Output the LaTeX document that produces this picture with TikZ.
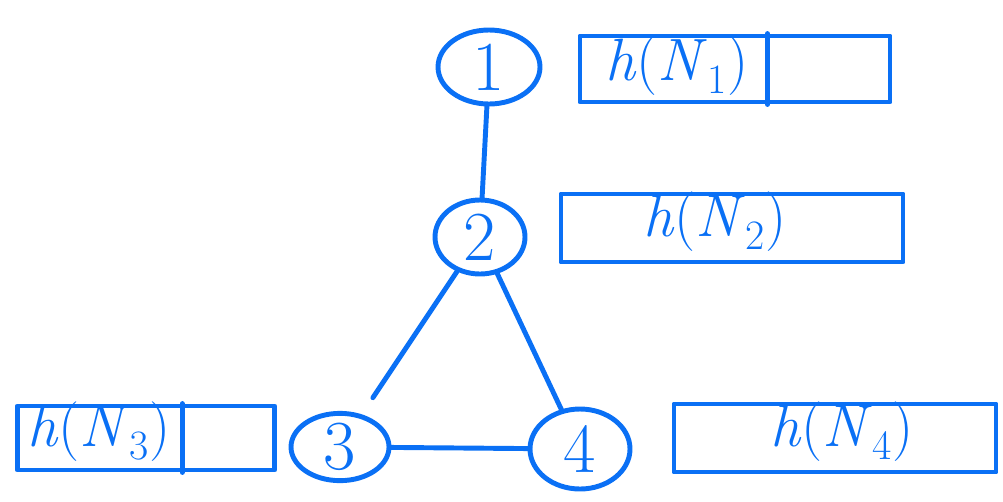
\documentclass[tikz,border=0pt]{standalone}
\usetikzlibrary{shapes.geometric,calc}
\definecolor{pen}{RGB}{10,112,245}
\newcommand{\hof}[1]{\textit{h}(\textit{N}\textsubscript{#1})}
\begin{document}
\begin{tikzpicture}[x=0.02cm,y=-0.02cm,
  ink/.style={draw=pen,line width=2.8pt,line cap=round,line join=round},
  vert/.style={ink,ellipse,inner sep=0pt,text=pen,font=\fontsize{40}{44}\selectfont},
  cell/.style={ink,rectangle,inner sep=0pt},
  lbl/.style={text=pen,inner sep=0pt,font=\fontsize{34}{40}\selectfont}]
\useasboundingbox (0,0) rectangle (1003,501);

% graph vertices
\node[vert,minimum width=102*0.02cm,minimum height=74*0.02cm] (n1) at (489,67) {1};
\node[vert,minimum width=90*0.02cm,minimum height=74*0.02cm] (n2) at (480,237) {2};
\node[vert,minimum width=98*0.02cm,minimum height=66*0.02cm] (n3) at (340,447) {3};
\node[vert,minimum width=100*0.02cm,minimum height=80*0.02cm] (n4) at (580,449) {4};

% edges
\draw[ink] (n1) -- (n2);
\draw[ink,shorten >=0.4cm] (n2) -- (n3);
\draw[ink] (n2) -- (n4);
\draw[ink] (n3) -- (n4);

% embedding cells
\node[cell,minimum width=310*0.02cm,minimum height=66*0.02cm] (b1) at (735,69) {};
\node[cell,minimum width=342*0.02cm,minimum height=68*0.02cm] (b2) at (732,228) {};
\node[cell,minimum width=257*0.02cm,minimum height=64*0.02cm] (b3) at (146,438) {};
\node[cell,minimum width=322*0.02cm,minimum height=68*0.02cm] (b4) at (835,438) {};

% dividers inside cells
\draw[ink] ($(b1.north west)!0.603!(b1.north east)$) -- ($(b1.south west)!0.603!(b1.south east)$);
\draw[ink] ($(b3.north west)!0.638!(b3.north east)$) -- ($(b3.south west)!0.638!(b3.south east)$);

% labels
\node[lbl] (t1) at (677,66) {\hof{1}};
\node[lbl] (t2) at (715,222) {\hof{2}};
\node[lbl] (t3) at (99,432) {\hof{3}};
\node[lbl] (t4) at (842,432) {\hof{4}};
\end{tikzpicture}
\end{document}
